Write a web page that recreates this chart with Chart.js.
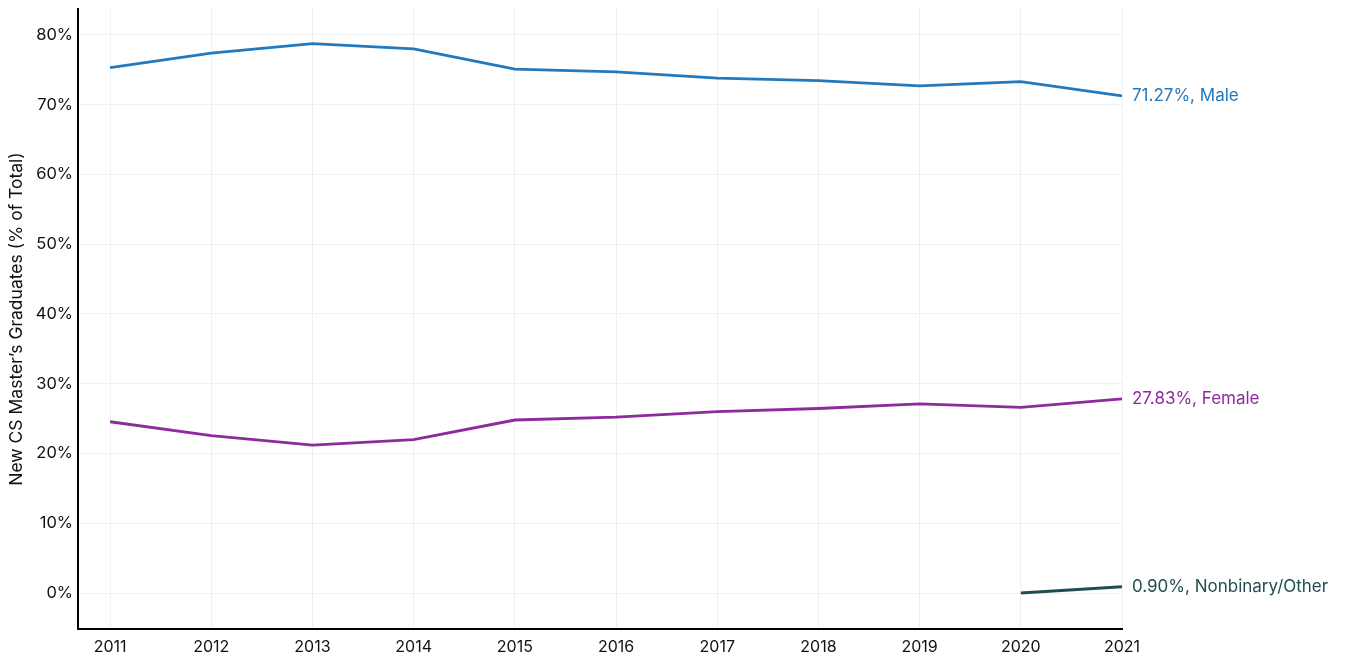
<!DOCTYPE html>
<html>
<head>
<meta charset="utf-8">
<script src="https://cdn.jsdelivr.net/npm/chart.js@4.4.1/dist/chart.umd.min.js"></script>
<style>
  html, body { margin: 0; padding: 0; background: #ffffff; }
  #wrap { width: 1353px; height: 658px; position: relative; }
</style>
</head>
<body>
<div id="wrap"><canvas id="chart" width="1353" height="658"></canvas></div>
<script>
// Share of new CS master's graduates by gender, 2011–2021 (% of total)
const years = [2011, 2012, 2013, 2014, 2015, 2016, 2017, 2018, 2019, 2020, 2021];
const maleShare = [75.3, 77.4, 78.75, 78.0, 75.1, 74.7, 73.8, 73.45, 72.7, 73.3, 71.27];
const femaleShare = [24.55, 22.55, 21.2, 22.0, 24.8, 25.2, 26.0, 26.45, 27.1, 26.6, 27.83];
const nonbinaryYears = [2020, 2021];
const nonbinaryShare = [0.0, 0.90];
const yTicks = [0, 10, 20, 30, 40, 50, 60, 70, 80];

const FONT = 'Inter, "Noto Sans", sans-serif';

const toPoints = (xs, ys) => xs.map((x, i) => ({ x: x, y: ys[i] }));

// Writes "value%, name" just right of each series' last point
const endLabels = {
  id: 'endLabels',
  afterDatasetsDraw(chart) {
    const ctx = chart.ctx;
    const xs = chart.scales.x, ys = chart.scales.y;
    ctx.save();
    ctx.font = '17px ' + FONT;
    ctx.textAlign = 'left';
    ctx.textBaseline = 'middle';
    chart.data.datasets.forEach(ds => {
      const last = ds.data[ds.data.length - 1];
      ctx.fillStyle = ds.borderColor;
      ctx.fillText(last.y.toFixed(2) + '%, ' + ds.label, xs.getPixelForValue(last.x) + 10, ys.getPixelForValue(last.y));
    });
    ctx.restore();
  }
};

new Chart(document.getElementById('chart'), {
  type: 'line',
  data: {
    datasets: [
      { label: 'Male', data: toPoints(years, maleShare), borderColor: '#2479bd' },
      { label: 'Female', data: toPoints(years, femaleShare), borderColor: '#8d2a9c' },
      { label: 'Nonbinary/Other', data: toPoints(nonbinaryYears, nonbinaryShare), borderColor: '#1f4e50' }
    ].map(d => Object.assign(d, { borderWidth: 2.8, pointRadius: 0, fill: false, tension: 0 }))
  },
  options: {
    responsive: false,
    animation: false,
    layout: { padding: { top: 9, right: 231, left: 0, bottom: 0 } },
    plugins: { legend: { display: false }, tooltip: { enabled: false } },
    scales: {
      x: {
        type: 'linear',
        min: 2010.683,
        max: 2021,
        afterFit: s => { s.height = 29; s.paddingLeft = 0; s.paddingRight = 0; },
        afterBuildTicks: s => { s.ticks = years.map(v => ({ value: v })); },
        grid: { color: '#f0f0f0', lineWidth: 1, drawTicks: false },
        border: { color: '#000000', width: 2 },
        ticks: {
          color: '#111111', font: { family: FONT, size: 16 }, padding: 9,
          maxRotation: 0, autoSkip: false,
          callback: v => String(v)
        }
      },
      y: {
        min: -5.16,
        max: 83.72,
        afterFit: s => { s.width = 78; s.paddingTop = 0; s.paddingBottom = 0; },
        afterBuildTicks: s => { s.ticks = yTicks.map(v => ({ value: v })); },
        grid: { color: '#f0f0f0', lineWidth: 1, drawTicks: false },
        border: { color: '#000000', width: 2 },
        ticks: {
          color: '#111111', font: { family: FONT, size: 16.5 }, padding: 5,
          callback: v => v + '%'
        },
        title: {
          display: true,
          text: 'New CS Master\u2019s Graduates (% of Total)',
          color: '#111111',
          font: { family: FONT, size: 17.5 },
          padding: { top: 6, bottom: 4 }
        }
      }
    }
  },
  plugins: [endLabels]
});
</script>
</body>
</html>
